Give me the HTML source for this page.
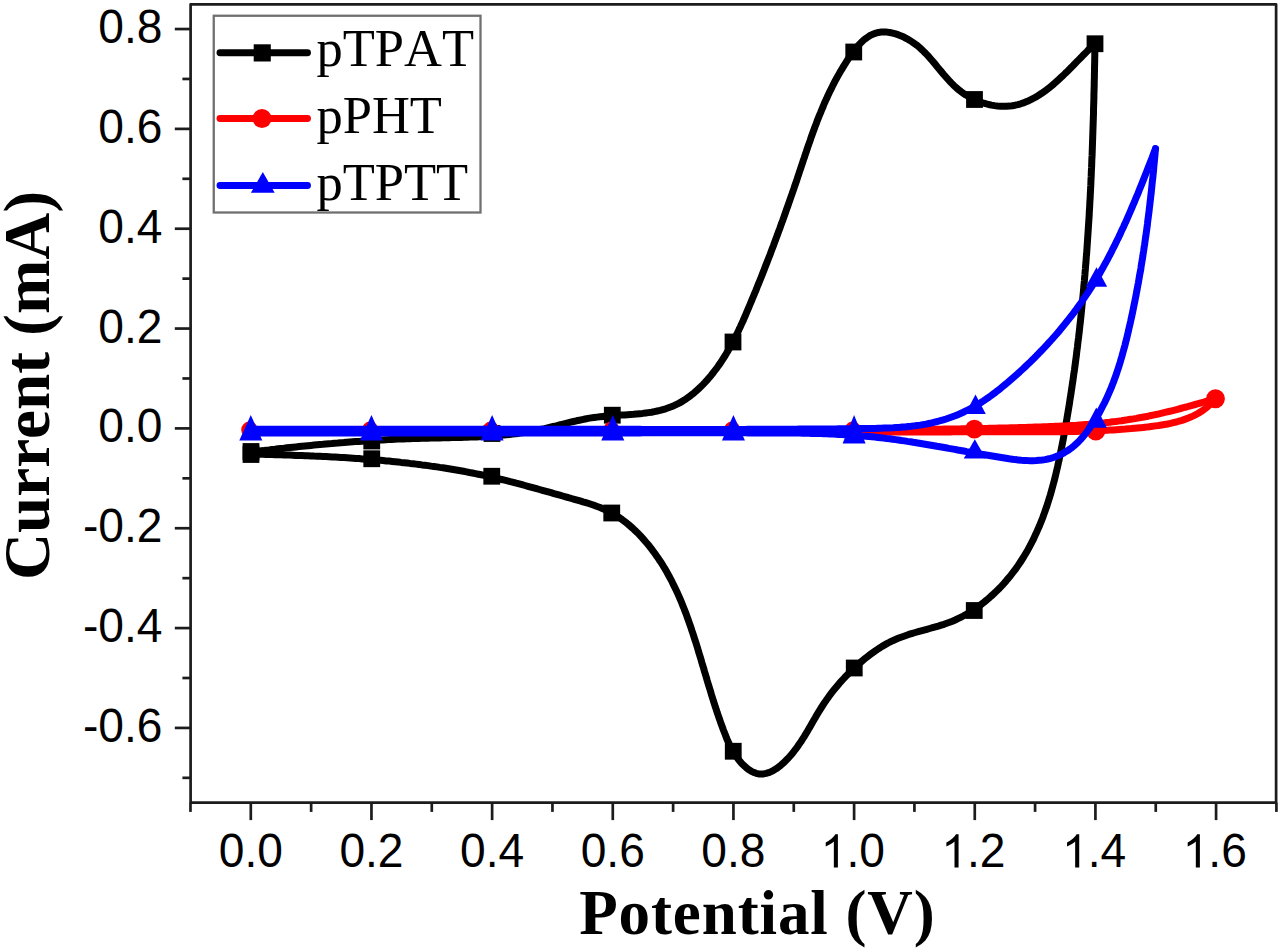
<!DOCTYPE html>
<html><head><meta charset="utf-8"><title>CV chart</title>
<style>html,body{margin:0;padding:0;background:#fff;}svg{display:block;}text{font-kerning:none;}</style>
</head><body>
<svg width="1280" height="949" viewBox="0 0 1280 949">
<rect width="1280" height="949" fill="#fff"/>
<g fill="none" stroke-linejoin="round" stroke-linecap="round">
<path d="M251.0,452.0 L254.0,451.6 L257.0,451.3 L260.0,450.9 L263.0,450.6 L266.0,450.2 L269.0,449.9 L272.0,449.5 L275.0,449.2 L278.0,448.8 L281.0,448.5 L284.0,448.2 L287.0,447.8 L290.0,447.5 L293.0,447.2 L296.0,446.9 L299.0,446.6 L302.0,446.3 L304.9,446.0 L307.9,445.7 L310.9,445.4 L313.9,445.1 L316.9,444.8 L319.9,444.5 L322.9,444.3 L325.9,444.0 L328.8,443.7 L331.8,443.5 L334.8,443.2 L337.8,443.0 L340.8,442.7 L343.8,442.5 L346.8,442.2 L349.8,442.0 L352.7,441.8 L355.7,441.6 L358.7,441.4 L361.7,441.2 L364.7,441.0 L367.7,440.8 L370.7,440.6 L373.7,440.4 L376.7,440.2 L379.7,440.0 L382.7,439.9 L385.7,439.7 L388.7,439.6 L391.7,439.4 L394.7,439.3 L397.7,439.1 L400.7,439.0 L403.7,438.9 L406.7,438.8 L409.8,438.7 L412.8,438.6 L415.8,438.5 L418.8,438.4 L421.8,438.3 L424.9,438.2 L427.9,438.2 L430.9,438.1 L434.0,438.0 L437.0,438.0 L440.0,437.9 L443.1,437.8 L446.1,437.8 L449.1,437.7 L452.2,437.6 L455.2,437.6 L458.2,437.5 L461.3,437.4 L464.3,437.3 L467.3,437.2 L470.3,437.1 L473.4,437.0 L476.4,436.9 L479.4,436.7 L482.4,436.6 L485.4,436.4 L488.5,436.2 L491.5,436.0 L494.5,435.8 L497.5,435.6 L500.5,435.3 L503.5,435.1 L506.4,434.8 L509.4,434.5 L512.4,434.1 L515.4,433.7 L518.3,433.4 L521.3,432.9 L524.2,432.5 L527.2,432.0 L530.1,431.5 L533.0,431.0 L535.9,430.4 L538.9,429.8 L541.8,429.2 L544.7,428.6 L547.6,427.9 L550.4,427.2 L553.3,426.5 L556.2,425.8 L559.1,425.0 L562.0,424.3 L564.9,423.6 L567.8,422.9 L570.6,422.2 L573.5,421.5 L576.5,420.8 L579.4,420.2 L582.3,419.6 L585.2,419.0 L588.2,418.4 L591.1,417.9 L594.1,417.5 L597.1,417.1 L600.1,416.7 L603.1,416.4 L606.2,416.1 L609.2,415.9 L612.3,415.7 L615.3,415.5 L618.4,415.3 L621.4,415.1 L624.5,414.9 L627.5,414.7 L630.5,414.5 L633.6,414.3 L636.6,414.0 L639.6,413.7 L642.6,413.4 L645.6,413.0 L648.5,412.6 L651.5,412.2 L654.4,411.6 L657.3,411.0 L660.1,410.4 L662.9,409.6 L665.7,408.8 L668.5,407.8 L671.2,406.8 L673.9,405.7 L676.6,404.4 L679.2,403.1 L681.8,401.6 L684.3,400.1 L686.8,398.4 L689.2,396.7 L691.6,394.8 L694.0,392.9 L696.3,390.9 L698.5,388.9 L700.7,386.8 L702.9,384.6 L705.0,382.4 L707.1,380.1 L709.1,377.8 L711.1,375.4 L713.0,373.0 L714.9,370.5 L716.8,368.1 L718.5,365.6 L720.3,363.1 L721.9,360.6 L723.6,358.0 L725.2,355.5 L726.7,352.9 L728.3,350.3 L729.7,347.7 L731.2,345.1 L732.6,342.5 L734.0,339.8 L735.3,337.1 L736.7,334.5 L738.0,331.8 L739.2,329.1 L740.5,326.4 L741.7,323.7 L743.0,321.0 L744.2,318.2 L745.4,315.5 L746.5,312.7 L747.7,310.0 L748.9,307.2 L750.0,304.5 L751.2,301.7 L752.3,298.9 L753.5,296.2 L754.6,293.4 L755.8,290.6 L756.9,287.8 L758.0,285.0 L759.2,282.2 L760.3,279.5 L761.4,276.7 L762.5,273.9 L763.6,271.1 L764.7,268.2 L765.8,265.4 L766.9,262.6 L768.0,259.8 L769.1,257.0 L770.2,254.2 L771.2,251.4 L772.3,248.5 L773.4,245.7 L774.4,242.9 L775.5,240.0 L776.5,237.2 L777.6,234.4 L778.6,231.5 L779.7,228.7 L780.7,225.9 L781.7,223.0 L782.8,220.2 L783.8,217.3 L784.8,214.5 L785.8,211.6 L786.8,208.8 L787.8,206.0 L788.8,203.1 L789.8,200.3 L790.8,197.4 L791.8,194.6 L792.8,191.7 L793.8,188.9 L794.7,186.0 L795.7,183.2 L796.7,180.3 L797.6,177.5 L798.6,174.6 L799.5,171.8 L800.5,168.9 L801.4,166.1 L802.4,163.3 L803.3,160.4 L804.3,157.6 L805.2,154.7 L806.2,151.9 L807.1,149.1 L808.1,146.2 L809.1,143.4 L810.1,140.6 L811.0,137.8 L812.0,135.0 L813.1,132.1 L814.1,129.3 L815.1,126.5 L816.2,123.7 L817.2,120.9 L818.3,118.1 L819.4,115.4 L820.6,112.6 L821.7,109.8 L822.9,107.0 L824.0,104.3 L825.2,101.5 L826.5,98.8 L827.7,96.0 L829.0,93.3 L830.3,90.6 L831.7,87.9 L833.0,85.1 L834.4,82.4 L835.8,79.7 L837.3,77.1 L838.8,74.4 L840.3,71.7 L841.9,69.1 L843.5,66.4 L845.1,63.8 L846.8,61.1 L848.5,58.5 L850.3,55.9 L852.1,53.4 L853.9,50.8 L855.8,48.4 L857.8,46.1 L859.8,43.9 L861.9,41.8 L864.0,39.8 L866.3,38.1 L868.6,36.5 L870.9,35.1 L873.4,34.0 L875.9,33.1 L878.6,32.4 L881.3,32.1 L884.1,32.0 L886.9,32.1 L889.8,32.5 L892.7,33.1 L895.7,33.9 L898.6,34.9 L901.4,36.0 L904.3,37.3 L907.1,38.8 L909.8,40.4 L912.4,42.1 L914.9,43.9 L917.4,45.7 L919.7,47.7 L922.0,49.8 L924.1,51.9 L926.3,54.0 L928.3,56.2 L930.3,58.5 L932.3,60.8 L934.3,63.1 L936.2,65.4 L938.1,67.8 L940.0,70.1 L942.0,72.4 L943.9,74.7 L945.9,77.0 L947.9,79.3 L949.9,81.5 L952.0,83.6 L954.1,85.7 L956.3,87.8 L958.6,89.7 L961.0,91.6 L963.4,93.3 L965.9,95.0 L968.6,96.6 L971.3,98.1 L974.0,99.4 L976.8,100.7 L979.7,101.8 L982.6,102.8 L985.6,103.7 L988.5,104.5 L991.5,105.1 L994.5,105.6 L997.5,106.0 L1000.5,106.2 L1003.5,106.3 L1006.4,106.3 L1009.4,106.1 L1012.3,105.7 L1015.1,105.2 L1017.9,104.6 L1020.7,103.8 L1023.4,102.9 L1026.1,101.8 L1028.8,100.7 L1031.4,99.4 L1034.0,98.0 L1036.6,96.6 L1039.1,95.0 L1041.7,93.3 L1044.1,91.6 L1046.6,89.8 L1049.0,87.9 L1051.4,86.0 L1053.8,84.0 L1056.1,81.9 L1058.4,79.8 L1060.7,77.7 L1063.0,75.6 L1065.2,73.4 L1067.5,71.2 L1069.7,69.0 L1071.9,66.8 L1074.1,64.5 L1076.2,62.3 L1078.4,60.1 L1080.5,58.0 L1082.6,55.8 L1084.7,53.7 L1086.8,51.6 L1088.8,49.5 L1090.9,47.6 L1093.0,45.6 L1095.0,43.8" stroke="#000" stroke-width="7.0"/>
<path d="M1095.0,43.7 L1094.9,46.8 L1094.9,49.8 L1094.8,52.8 L1094.8,55.9 L1094.7,58.9 L1094.7,61.9 L1094.6,64.9 L1094.5,67.9 L1094.5,71.0 L1094.4,74.0 L1094.4,77.0 L1094.3,80.0 L1094.2,83.0 L1094.2,86.0 L1094.1,89.1 L1094.0,92.1 L1093.9,95.1 L1093.9,98.1 L1093.8,101.1 L1093.7,104.1 L1093.6,107.1 L1093.5,110.1 L1093.5,113.2 L1093.4,116.2 L1093.3,119.2 L1093.2,122.2 L1093.1,125.2 L1093.0,128.2 L1092.9,131.2 L1092.8,134.2 L1092.7,137.2 L1092.6,140.2 L1092.5,143.2 L1092.4,146.2 L1092.3,149.2 L1092.2,152.2 L1092.1,155.2 L1091.9,158.2 L1091.8,161.2 L1091.7,164.2 L1091.6,167.2 L1091.4,170.2 L1091.3,173.2 L1091.2,176.2 L1091.0,179.2 L1090.9,182.2 L1090.8,185.2 L1090.6,188.1 L1090.5,191.1 L1090.3,194.1 L1090.2,197.1 L1090.0,200.1 L1089.8,203.1 L1089.7,206.1 L1089.5,209.1 L1089.3,212.1 L1089.2,215.1 L1089.0,218.1 L1088.8,221.0 L1088.6,224.0 L1088.4,227.0 L1088.2,230.0 L1088.0,233.0 L1087.8,236.0 L1087.6,239.0 L1087.4,242.0 L1087.2,244.9 L1087.0,247.9 L1086.8,250.9 L1086.6,253.9 L1086.3,256.9 L1086.1,259.9 L1085.9,262.9 L1085.6,265.8 L1085.4,268.8 L1085.1,271.8 L1084.9,274.8 L1084.6,277.8 L1084.4,280.8 L1084.1,283.7 L1083.8,286.7 L1083.6,289.7 L1083.3,292.7 L1083.0,295.7 L1082.7,298.7 L1082.4,301.6 L1082.1,304.6 L1081.8,307.6 L1081.5,310.6 L1081.2,313.6 L1080.9,316.6 L1080.6,319.5 L1080.3,322.5 L1079.9,325.5 L1079.6,328.5 L1079.3,331.5 L1078.9,334.5 L1078.6,337.4 L1078.2,340.4 L1077.8,343.4 L1077.5,346.4 L1077.1,349.4 L1076.7,352.4 L1076.4,355.3 L1076.0,358.3 L1075.6,361.3 L1075.2,364.3 L1074.8,367.3 L1074.4,370.3 L1073.9,373.3 L1073.5,376.2 L1073.1,379.2 L1072.7,382.2 L1072.2,385.2 L1071.8,388.2 L1071.3,391.2 L1070.9,394.2 L1070.4,397.1 L1069.9,400.1 L1069.5,403.1 L1069.0,406.1 L1068.5,409.1 L1068.0,412.1 L1067.5,415.1 L1067.0,418.1 L1066.5,421.0 L1066.0,424.0 L1065.4,427.0 L1064.9,430.0 L1064.4,433.0 L1063.8,436.0 L1063.3,439.0 L1062.7,442.0 L1062.1,445.0 L1061.5,448.0 L1060.9,450.9 L1060.3,453.9 L1059.7,456.9 L1059.1,459.9 L1058.4,462.8 L1057.8,465.8 L1057.1,468.8 L1056.4,471.7 L1055.7,474.7 L1055.0,477.6 L1054.3,480.5 L1053.5,483.4 L1052.7,486.4 L1051.9,489.3 L1051.1,492.2 L1050.3,495.0 L1049.4,497.9 L1048.5,500.8 L1047.6,503.6 L1046.7,506.5 L1045.7,509.3 L1044.7,512.1 L1043.7,514.9 L1042.7,517.7 L1041.6,520.5 L1040.5,523.2 L1039.4,526.0 L1038.2,528.7 L1037.0,531.4 L1035.8,534.1 L1034.5,536.8 L1033.3,539.5 L1031.9,542.1 L1030.6,544.7 L1029.2,547.3 L1027.8,549.9 L1026.3,552.5 L1024.8,555.0 L1023.3,557.5 L1021.7,560.0 L1020.1,562.5 L1018.5,564.9 L1016.8,567.4 L1015.0,569.8 L1013.2,572.1 L1011.4,574.5 L1009.6,576.8 L1007.6,579.1 L1005.7,581.4 L1003.7,583.7 L1001.7,585.9 L999.6,588.1 L997.4,590.2 L995.2,592.4 L993.0,594.5 L990.7,596.5 L988.4,598.6 L986.1,600.5 L983.7,602.5 L981.2,604.4 L978.8,606.2 L976.3,608.0 L973.7,609.7 L971.2,611.4 L968.6,613.0 L965.9,614.5 L963.3,616.0 L960.6,617.4 L957.9,618.7 L955.2,620.0 L952.4,621.2 L949.6,622.3 L946.8,623.3 L944.0,624.3 L941.2,625.2 L938.3,626.1 L935.5,626.9 L932.6,627.7 L929.7,628.5 L926.9,629.3 L924.0,630.1 L921.1,630.9 L918.2,631.7 L915.3,632.5 L912.4,633.3 L909.6,634.2 L906.7,635.2 L903.9,636.2 L901.0,637.2 L898.2,638.3 L895.4,639.5 L892.7,640.7 L890.0,642.0 L887.3,643.4 L884.7,644.9 L882.1,646.4 L879.6,648.0 L877.1,649.6 L874.6,651.3 L872.1,653.1 L869.7,654.9 L867.4,656.7 L865.0,658.6 L862.7,660.5 L860.4,662.5 L858.2,664.4 L855.9,666.4 L853.7,668.4 L851.6,670.5 L849.5,672.6 L847.4,674.7 L845.3,676.8 L843.3,679.0 L841.3,681.2 L839.3,683.4 L837.4,685.7 L835.5,688.0 L833.6,690.3 L831.7,692.7 L829.9,695.1 L828.2,697.5 L826.4,700.0 L824.7,702.4 L823.0,705.0 L821.4,707.5 L819.8,710.1 L818.2,712.7 L816.6,715.3 L815.1,718.0 L813.5,720.6 L812.0,723.3 L810.5,725.9 L808.9,728.6 L807.4,731.3 L805.8,733.9 L804.2,736.6 L802.5,739.2 L800.9,741.8 L799.1,744.3 L797.4,746.8 L795.5,749.3 L793.7,751.8 L791.7,754.2 L789.7,756.5 L787.6,758.8 L785.4,761.0 L783.2,763.2 L780.9,765.2 L778.5,767.1 L776.1,768.8 L773.6,770.3 L771.1,771.6 L768.6,772.7 L766.1,773.4 L763.6,773.9 L761.1,774.1 L758.6,773.9 L756.2,773.3 L753.7,772.4 L751.4,771.3 L749.0,769.8 L746.8,768.2 L744.6,766.2 L742.4,764.2 L740.4,761.9 L738.4,759.5 L736.6,757.0 L734.8,754.4 L733.2,751.7 L731.7,749.0 L730.3,746.3 L729.0,743.5 L727.7,740.8 L726.5,738.0 L725.4,735.1 L724.3,732.3 L723.2,729.5 L722.2,726.6 L721.1,723.8 L720.1,720.9 L719.1,718.0 L718.1,715.1 L717.1,712.3 L716.2,709.4 L715.2,706.5 L714.3,703.6 L713.4,700.7 L712.4,697.7 L711.5,694.8 L710.7,691.9 L709.8,689.0 L708.9,686.1 L708.0,683.2 L707.1,680.2 L706.3,677.3 L705.4,674.4 L704.5,671.5 L703.7,668.5 L702.8,665.6 L701.9,662.7 L701.1,659.8 L700.2,656.9 L699.3,654.0 L698.4,651.1 L697.6,648.2 L696.7,645.3 L695.8,642.4 L694.8,639.5 L693.9,636.6 L693.0,633.8 L692.0,630.9 L691.1,628.0 L690.1,625.2 L689.1,622.4 L688.1,619.5 L687.1,616.7 L686.1,613.9 L685.0,611.1 L683.9,608.3 L682.8,605.6 L681.7,602.8 L680.6,600.1 L679.4,597.3 L678.2,594.6 L677.0,591.9 L675.7,589.2 L674.4,586.6 L673.1,583.9 L671.8,581.3 L670.4,578.6 L669.0,576.0 L667.6,573.5 L666.2,570.9 L664.7,568.3 L663.1,565.8 L661.6,563.3 L659.9,560.8 L658.3,558.3 L656.6,555.9 L654.9,553.5 L653.1,551.1 L651.3,548.7 L649.5,546.3 L647.6,544.0 L645.6,541.7 L643.6,539.4 L641.6,537.2 L639.5,534.9 L637.4,532.7 L635.2,530.6 L633.0,528.5 L630.7,526.5 L628.4,524.5 L626.0,522.6 L623.6,520.7 L621.2,518.9 L618.7,517.2 L616.2,515.6 L613.6,514.0 L611.0,512.5 L608.3,511.2 L605.6,509.9 L602.9,508.7 L600.1,507.5 L597.3,506.5 L594.5,505.4 L591.7,504.5 L588.8,503.5 L585.9,502.6 L583.0,501.8 L580.1,500.9 L577.2,500.1 L574.3,499.3 L571.4,498.5 L568.5,497.7 L565.6,496.8 L562.7,496.0 L559.8,495.2 L556.9,494.4 L554.0,493.6 L551.1,492.7 L548.2,491.9 L545.3,491.1 L542.4,490.3 L539.5,489.5 L536.6,488.7 L533.7,487.9 L530.8,487.1 L527.9,486.3 L525.0,485.5 L522.1,484.7 L519.2,483.9 L516.3,483.2 L513.4,482.4 L510.4,481.7 L507.5,480.9 L504.6,480.2 L501.7,479.5 L498.8,478.8 L495.9,478.1 L493.0,477.4 L490.0,476.7 L487.1,476.1 L484.2,475.4 L481.2,474.8 L478.3,474.2 L475.4,473.6 L472.4,473.0 L469.5,472.5 L466.5,471.9 L463.6,471.3 L460.6,470.8 L457.7,470.3 L454.7,469.8 L451.8,469.3 L448.8,468.8 L445.8,468.3 L442.9,467.8 L439.9,467.4 L436.9,466.9 L434.0,466.5 L431.0,466.1 L428.0,465.6 L425.0,465.2 L422.0,464.9 L419.1,464.5 L416.1,464.1 L413.1,463.7 L410.1,463.4 L407.1,463.0 L404.1,462.7 L401.1,462.4 L398.1,462.0 L395.1,461.7 L392.2,461.4 L389.2,461.1 L386.2,460.9 L383.2,460.6 L380.2,460.3 L377.2,460.0 L374.2,459.8 L371.2,459.5 L368.2,459.3 L365.2,459.1 L362.1,458.9 L359.1,458.6 L356.1,458.4 L353.1,458.2 L350.1,458.0 L347.1,457.8 L344.1,457.6 L341.1,457.5 L338.1,457.3 L335.1,457.1 L332.1,457.0 L329.1,456.8 L326.1,456.6 L323.0,456.5 L320.0,456.3 L317.0,456.2 L314.0,456.1 L311.0,455.9 L308.0,455.8 L305.0,455.7 L302.0,455.6 L299.0,455.5 L296.0,455.4 L293.0,455.2 L290.0,455.1 L287.0,455.0 L284.0,454.9 L281.0,454.8 L278.0,454.7 L275.0,454.7 L272.0,454.6 L269.0,454.5 L266.0,454.4 L263.0,454.3 L260.0,454.2 L257.0,454.2 L254.0,454.1 L251.0,454.0" stroke="#000" stroke-width="7.0"/>
</g>
<rect x="242.60" y="443.10" width="16.8" height="16.8" fill="#000"/>
<rect x="242.60" y="446.10" width="16.8" height="16.8" fill="#000"/>
<rect x="363.35" y="432.60" width="16.8" height="16.8" fill="#000"/>
<rect x="363.35" y="450.35" width="16.8" height="16.8" fill="#000"/>
<rect x="483.60" y="425.10" width="16.8" height="16.8" fill="#000"/>
<rect x="483.35" y="467.85" width="16.8" height="16.8" fill="#000"/>
<rect x="603.90" y="406.80" width="16.8" height="16.8" fill="#000"/>
<rect x="603.35" y="504.60" width="16.8" height="16.8" fill="#000"/>
<rect x="724.60" y="333.60" width="16.8" height="16.8" fill="#000"/>
<rect x="724.85" y="742.85" width="16.8" height="16.8" fill="#000"/>
<rect x="845.35" y="43.60" width="16.8" height="16.8" fill="#000"/>
<rect x="845.85" y="659.60" width="16.8" height="16.8" fill="#000"/>
<rect x="966.10" y="91.10" width="16.8" height="16.8" fill="#000"/>
<rect x="965.85" y="602.10" width="16.8" height="16.8" fill="#000"/>
<rect x="1086.60" y="35.35" width="16.8" height="16.8" fill="#000"/>
<g fill="none" stroke-linejoin="round" stroke-linecap="round">
<path d="M251.0,430.0 L254.0,430.0 L257.0,430.0 L260.0,430.0 L263.1,430.0 L266.1,430.0 L269.1,430.0 L272.1,430.0 L275.1,430.0 L278.1,430.0 L281.1,430.0 L284.2,430.0 L287.2,430.0 L290.2,430.0 L293.2,430.0 L296.2,430.1 L299.2,430.1 L302.2,430.1 L305.3,430.1 L308.3,430.1 L311.3,430.1 L314.3,430.1 L317.3,430.1 L320.3,430.1 L323.3,430.1 L326.4,430.1 L329.4,430.1 L332.4,430.1 L335.4,430.1 L338.4,430.1 L341.4,430.1 L344.4,430.1 L347.5,430.1 L350.5,430.1 L353.5,430.1 L356.5,430.1 L359.5,430.1 L362.5,430.1 L365.5,430.1 L368.6,430.1 L371.6,430.1 L374.6,430.1 L377.6,430.1 L380.6,430.1 L383.6,430.1 L386.6,430.1 L389.7,430.1 L392.7,430.1 L395.7,430.1 L398.7,430.1 L401.7,430.1 L404.7,430.1 L407.7,430.1 L410.8,430.1 L413.8,430.1 L416.8,430.1 L419.8,430.1 L422.8,430.1 L425.8,430.1 L428.8,430.1 L431.9,430.1 L434.9,430.1 L437.9,430.0 L440.9,430.0 L443.9,430.0 L446.9,430.0 L449.9,430.0 L453.0,430.0 L456.0,430.0 L459.0,430.0 L462.0,430.0 L465.0,430.0 L468.0,430.0 L471.0,430.0 L474.1,430.0 L477.1,430.0 L480.1,430.0 L483.1,430.0 L486.1,430.0 L489.1,430.0 L492.1,430.0 L495.1,430.0 L498.2,430.0 L501.2,430.0 L504.2,430.0 L507.2,430.0 L510.2,430.0 L513.2,430.0 L516.2,430.0 L519.3,430.0 L522.3,430.0 L525.3,430.0 L528.3,430.0 L531.3,430.0 L534.3,430.0 L537.3,430.0 L540.4,430.0 L543.4,430.0 L546.4,430.0 L549.4,430.0 L552.4,430.0 L555.4,430.0 L558.4,430.0 L561.5,430.0 L564.5,429.9 L567.5,429.9 L570.5,429.9 L573.5,429.9 L576.5,429.9 L579.5,429.9 L582.6,429.9 L585.6,429.9 L588.6,429.9 L591.6,429.9 L594.6,429.9 L597.6,429.9 L600.6,429.9 L603.7,429.9 L606.7,429.9 L609.7,429.9 L612.7,429.9 L615.7,429.9 L618.7,429.9 L621.7,429.9 L624.8,429.9 L627.8,429.9 L630.8,429.9 L633.8,429.9 L636.8,429.9 L639.8,429.9 L642.8,429.9 L645.8,429.9 L648.9,429.9 L651.9,429.9 L654.9,429.9 L657.9,429.9 L660.9,429.9 L663.9,429.9 L666.9,429.9 L670.0,429.9 L673.0,429.9 L676.0,429.9 L679.0,429.9 L682.0,429.9 L685.0,429.9 L688.0,429.9 L691.1,429.9 L694.1,429.9 L697.1,429.9 L700.1,429.9 L703.1,429.9 L706.1,429.9 L709.1,429.9 L712.2,429.9 L715.2,429.9 L718.2,429.9 L721.2,429.9 L724.2,429.9 L727.2,429.9 L730.2,429.9 L733.3,429.9 L736.3,429.9 L739.3,429.9 L742.3,429.9 L745.3,429.9 L748.3,429.9 L751.4,429.9 L754.4,429.9 L757.4,429.9 L760.4,429.9 L763.4,429.9 L766.4,429.9 L769.4,429.9 L772.5,429.9 L775.5,429.9 L778.5,429.9 L781.5,429.9 L784.5,429.9 L787.5,429.9 L790.5,429.9 L793.6,429.9 L796.6,429.9 L799.6,429.9 L802.6,429.9 L805.6,429.9 L808.6,429.9 L811.6,429.9 L814.7,429.9 L817.7,429.9 L820.7,429.9 L823.7,429.9 L826.7,429.9 L829.7,429.9 L832.7,429.9 L835.8,429.9 L838.8,429.9 L841.8,429.9 L844.8,429.9 L847.8,429.9 L850.8,429.9 L853.8,429.8 L856.9,429.8 L859.9,429.8 L862.9,429.8 L865.9,429.8 L868.9,429.8 L871.9,429.8 L874.9,429.8 L878.0,429.7 L881.0,429.7 L884.0,429.7 L887.0,429.7 L890.0,429.7 L893.0,429.6 L896.0,429.6 L899.1,429.6 L902.1,429.6 L905.1,429.5 L908.1,429.5 L911.1,429.5 L914.1,429.5 L917.1,429.4 L920.2,429.4 L923.2,429.4 L926.2,429.3 L929.2,429.3 L932.2,429.3 L935.2,429.2 L938.2,429.2 L941.3,429.2 L944.3,429.1 L947.3,429.1 L950.3,429.0 L953.3,429.0 L956.3,428.9 L959.3,428.9 L962.3,428.8 L965.4,428.8 L968.4,428.7 L971.4,428.7 L974.4,428.6 L977.4,428.6 L980.4,428.5 L983.4,428.4 L986.5,428.4 L989.5,428.3 L992.5,428.3 L995.5,428.2 L998.5,428.1 L1001.5,428.0 L1004.5,428.0 L1007.5,427.9 L1010.6,427.8 L1013.6,427.7 L1016.6,427.7 L1019.6,427.6 L1022.6,427.5 L1025.6,427.4 L1028.6,427.3 L1031.6,427.2 L1034.7,427.1 L1037.7,427.0 L1040.7,426.9 L1043.7,426.8 L1046.7,426.7 L1049.7,426.6 L1052.7,426.5 L1055.7,426.3 L1058.7,426.2 L1061.7,426.0 L1064.7,425.9 L1067.7,425.7 L1070.7,425.5 L1073.7,425.4 L1076.7,425.2 L1079.7,424.9 L1082.7,424.7 L1085.7,424.5 L1088.7,424.3 L1091.7,424.0 L1094.7,423.7 L1097.7,423.5 L1100.7,423.2 L1103.7,422.9 L1106.7,422.5 L1109.7,422.2 L1112.6,421.8 L1115.6,421.5 L1118.6,421.1 L1121.6,420.7 L1124.6,420.2 L1127.5,419.8 L1130.5,419.3 L1133.5,418.9 L1136.4,418.4 L1139.4,417.8 L1142.3,417.3 L1145.3,416.7 L1148.2,416.2 L1151.2,415.5 L1154.1,414.9 L1157.1,414.3 L1160.0,413.6 L1163.0,412.9 L1165.9,412.2 L1168.9,411.5 L1171.8,410.8 L1174.7,410.1 L1177.6,409.3 L1180.6,408.5 L1183.5,407.7 L1186.4,407.0 L1189.3,406.1 L1192.2,405.3 L1195.2,404.5 L1198.1,403.7 L1201.0,402.8 L1203.9,402.0 L1206.8,401.1 L1209.7,400.2 L1212.6,399.4 L1215.5,398.5" stroke="#f00" stroke-width="7.0"/>
<path d="M1215.5,398.5 L1213.6,400.8 L1211.6,403.0 L1209.5,405.0 L1207.3,407.0 L1205.0,408.8 L1202.7,410.5 L1200.3,412.0 L1197.9,413.5 L1195.3,414.9 L1192.8,416.1 L1190.1,417.3 L1187.5,418.4 L1184.7,419.4 L1182.0,420.4 L1179.1,421.2 L1176.3,422.0 L1173.4,422.7 L1170.5,423.4 L1167.6,424.0 L1164.6,424.5 L1161.6,425.0 L1158.6,425.5 L1155.6,425.9 L1152.6,426.3 L1149.5,426.7 L1146.5,427.1 L1143.5,427.4 L1140.4,427.7 L1137.4,428.0 L1134.4,428.3 L1131.3,428.6 L1128.3,428.8 L1125.3,429.1 L1122.2,429.3 L1119.2,429.5 L1116.2,429.7 L1113.1,429.9 L1110.1,430.1 L1107.1,430.3 L1104.1,430.4 L1101.0,430.6 L1098.0,430.7 L1095.0,430.8 L1092.0,431.0 L1089.0,431.1 L1085.9,431.2 L1082.9,431.2 L1079.9,431.3 L1076.9,431.4 L1073.9,431.5 L1070.8,431.5 L1067.8,431.6 L1064.8,431.6 L1061.8,431.7 L1058.8,431.7 L1055.8,431.7 L1052.7,431.7 L1049.7,431.8 L1046.7,431.8 L1043.7,431.8 L1040.7,431.8 L1037.7,431.8 L1034.7,431.8 L1031.6,431.8 L1028.6,431.8 L1025.6,431.8 L1022.6,431.8 L1019.6,431.8 L1016.6,431.8 L1013.6,431.8 L1010.5,431.8 L1007.5,431.8 L1004.5,431.8 L1001.5,431.8 L998.5,431.8 L995.5,431.8 L992.5,431.8 L989.5,431.8 L986.4,431.8 L983.4,431.8 L980.4,431.8 L977.4,431.8 L974.4,431.8 L971.4,431.8 L968.4,431.8 L965.3,431.8 L962.3,431.8 L959.3,431.8 L956.3,431.8 L953.3,431.8 L950.3,431.9 L947.3,431.9 L944.2,431.9 L941.2,431.9 L938.2,431.9 L935.2,431.9 L932.2,431.9 L929.2,431.9 L926.2,431.9 L923.2,431.9 L920.1,431.9 L917.1,431.9 L914.1,431.9 L911.1,431.9 L908.1,431.9 L905.1,431.9 L902.1,431.9 L899.0,431.9 L896.0,431.9 L893.0,431.9 L890.0,431.9 L887.0,431.9 L884.0,431.9 L881.0,431.9 L877.9,431.9 L874.9,431.9 L871.9,431.9 L868.9,431.9 L865.9,431.9 L862.9,431.9 L859.9,431.9 L856.9,431.9 L853.8,431.9 L850.8,431.9 L847.8,431.9 L844.8,431.9 L841.8,431.9 L838.8,431.9 L835.8,431.9 L832.7,432.0 L829.7,432.0 L826.7,432.0 L823.7,432.0 L820.7,432.0 L817.7,432.0 L814.7,432.0 L811.7,432.0 L808.6,432.0 L805.6,432.0 L802.6,432.0 L799.6,432.0 L796.6,432.0 L793.6,432.0 L790.6,432.0 L787.5,432.0 L784.5,432.0 L781.5,432.0 L778.5,432.0 L775.5,432.0 L772.5,432.0 L769.5,432.0 L766.4,432.0 L763.4,432.0 L760.4,432.0 L757.4,432.0 L754.4,432.0 L751.4,432.0 L748.4,432.0 L745.3,432.0 L742.3,432.0 L739.3,432.0 L736.3,432.0 L733.3,432.0 L730.3,432.0 L727.3,432.0 L724.3,432.0 L721.2,432.0 L718.2,432.0 L715.2,432.0 L712.2,432.0 L709.2,432.0 L706.2,432.0 L703.2,432.0 L700.1,432.0 L697.1,432.0 L694.1,432.0 L691.1,432.0 L688.1,432.0 L685.1,432.0 L682.1,432.0 L679.0,432.0 L676.0,432.0 L673.0,432.0 L670.0,432.0 L667.0,432.0 L664.0,432.0 L661.0,432.0 L657.9,432.0 L654.9,432.0 L651.9,432.0 L648.9,432.0 L645.9,432.0 L642.9,432.0 L639.9,432.0 L636.8,432.0 L633.8,432.0 L630.8,432.0 L627.8,432.0 L624.8,432.0 L621.8,432.0 L618.8,432.0 L615.7,432.0 L612.7,432.0 L609.7,432.0 L606.7,432.0 L603.7,432.0 L600.7,432.0 L597.7,432.0 L594.6,432.0 L591.6,432.0 L588.6,432.0 L585.6,432.0 L582.6,432.0 L579.6,432.0 L576.5,432.0 L573.5,432.0 L570.5,432.0 L567.5,432.0 L564.5,432.0 L561.5,432.0 L558.5,432.0 L555.4,432.0 L552.4,432.0 L549.4,432.0 L546.4,432.0 L543.4,432.0 L540.4,432.0 L537.4,432.0 L534.3,432.0 L531.3,432.0 L528.3,432.0 L525.3,432.0 L522.3,432.0 L519.3,432.0 L516.3,432.0 L513.2,432.0 L510.2,432.0 L507.2,432.0 L504.2,432.0 L501.2,432.0 L498.2,432.0 L495.2,432.0 L492.1,432.0 L489.1,432.0 L486.1,432.0 L483.1,432.0 L480.1,432.0 L477.1,432.0 L474.1,432.0 L471.0,432.0 L468.0,432.0 L465.0,432.0 L462.0,432.0 L459.0,432.0 L456.0,432.0 L453.0,432.0 L449.9,432.0 L446.9,432.0 L443.9,432.0 L440.9,432.0 L437.9,432.0 L434.9,432.0 L431.9,432.0 L428.8,432.0 L425.8,432.0 L422.8,432.0 L419.8,432.0 L416.8,432.0 L413.8,432.0 L410.8,432.0 L407.7,432.0 L404.7,432.0 L401.7,432.0 L398.7,432.0 L395.7,432.0 L392.7,432.0 L389.6,432.0 L386.6,432.0 L383.6,432.0 L380.6,432.0 L377.6,432.0 L374.6,432.0 L371.6,432.0 L368.5,432.0 L365.5,432.0 L362.5,432.0 L359.5,432.0 L356.5,432.0 L353.5,432.0 L350.5,432.0 L347.4,432.0 L344.4,432.0 L341.4,432.0 L338.4,432.0 L335.4,432.0 L332.4,432.0 L329.4,432.0 L326.3,432.0 L323.3,432.0 L320.3,432.0 L317.3,432.0 L314.3,432.0 L311.3,432.0 L308.3,432.0 L305.3,432.0 L302.2,432.0 L299.2,432.0 L296.2,432.0 L293.2,432.0 L290.2,432.0 L287.2,432.0 L284.2,432.0 L281.1,432.0 L278.1,432.0 L275.1,432.0 L272.1,432.0 L269.1,432.0 L266.1,432.0 L263.1,432.0 L260.0,432.0 L257.0,432.0 L254.0,432.0 L251.0,432.0" stroke="#f00" stroke-width="7.0"/>
</g>
<circle cx="249.50" cy="429.80" r="8.3" fill="#f00"/>
<circle cx="370.16" cy="429.80" r="8.3" fill="#f00"/>
<circle cx="490.82" cy="429.80" r="8.3" fill="#f00"/>
<circle cx="611.48" cy="429.80" r="8.3" fill="#f00"/>
<circle cx="732.14" cy="429.80" r="8.3" fill="#f00"/>
<circle cx="852.80" cy="429.80" r="8.3" fill="#f00"/>
<circle cx="974.40" cy="429.20" r="9.4" fill="#f00"/>
<circle cx="1095.80" cy="431.00" r="9.4" fill="#f00"/>
<circle cx="1215.50" cy="398.75" r="9.4" fill="#f00"/>
<g fill="none" stroke-linejoin="round" stroke-linecap="round">
<path d="M251.0,429.3 L254.0,429.3 L257.0,429.3 L260.0,429.3 L263.0,429.3 L266.0,429.3 L269.0,429.3 L272.1,429.3 L275.1,429.3 L278.1,429.3 L281.1,429.3 L284.1,429.3 L287.1,429.3 L290.1,429.3 L293.1,429.3 L296.1,429.3 L299.1,429.3 L302.2,429.3 L305.2,429.3 L308.2,429.3 L311.2,429.3 L314.2,429.3 L317.2,429.3 L320.2,429.3 L323.2,429.3 L326.3,429.3 L329.3,429.3 L332.3,429.3 L335.3,429.3 L338.3,429.3 L341.3,429.3 L344.3,429.3 L347.4,429.3 L350.4,429.3 L353.4,429.3 L356.4,429.3 L359.4,429.3 L362.4,429.3 L365.4,429.3 L368.5,429.3 L371.5,429.3 L374.5,429.3 L377.5,429.3 L380.5,429.3 L383.5,429.3 L386.6,429.3 L389.6,429.3 L392.6,429.3 L395.6,429.3 L398.6,429.3 L401.6,429.3 L404.7,429.3 L407.7,429.3 L410.7,429.3 L413.7,429.3 L416.7,429.3 L419.7,429.3 L422.8,429.3 L425.8,429.3 L428.8,429.3 L431.8,429.3 L434.8,429.3 L437.9,429.3 L440.9,429.3 L443.9,429.3 L446.9,429.3 L449.9,429.3 L452.9,429.3 L456.0,429.3 L459.0,429.3 L462.0,429.3 L465.0,429.3 L468.0,429.3 L471.0,429.3 L474.1,429.3 L477.1,429.3 L480.1,429.3 L483.1,429.3 L486.1,429.3 L489.1,429.3 L492.2,429.3 L495.2,429.3 L498.2,429.3 L501.2,429.3 L504.2,429.3 L507.2,429.3 L510.3,429.3 L513.3,429.3 L516.3,429.2 L519.3,429.2 L522.3,429.2 L525.3,429.2 L528.3,429.2 L531.4,429.2 L534.4,429.2 L537.4,429.3 L540.4,429.3 L543.4,429.3 L546.4,429.3 L549.4,429.3 L552.5,429.3 L555.5,429.3 L558.5,429.3 L561.5,429.3 L564.5,429.3 L567.5,429.3 L570.5,429.3 L573.5,429.3 L576.6,429.3 L579.6,429.3 L582.6,429.3 L585.6,429.3 L588.6,429.3 L591.6,429.3 L594.6,429.3 L597.6,429.3 L600.6,429.3 L603.6,429.3 L606.6,429.3 L609.7,429.3 L612.7,429.3 L615.7,429.3 L618.7,429.3 L621.7,429.3 L624.7,429.3 L627.7,429.3 L630.7,429.3 L633.7,429.3 L636.7,429.3 L639.7,429.3 L642.7,429.4 L645.7,429.4 L648.7,429.4 L651.8,429.4 L654.8,429.4 L657.8,429.4 L660.8,429.4 L663.8,429.4 L666.8,429.4 L669.8,429.4 L672.8,429.4 L675.8,429.4 L678.8,429.4 L681.8,429.4 L684.8,429.4 L687.8,429.4 L690.8,429.4 L693.8,429.4 L696.9,429.4 L699.9,429.4 L702.9,429.4 L705.9,429.4 L708.9,429.4 L711.9,429.4 L714.9,429.4 L717.9,429.4 L720.9,429.4 L723.9,429.4 L726.9,429.4 L730.0,429.4 L733.0,429.4 L736.0,429.4 L739.0,429.4 L742.0,429.4 L745.0,429.4 L748.0,429.3 L751.0,429.3 L754.0,429.3 L757.1,429.3 L760.1,429.3 L763.1,429.3 L766.1,429.3 L769.1,429.3 L772.1,429.3 L775.2,429.3 L778.2,429.2 L781.2,429.2 L784.2,429.2 L787.2,429.2 L790.2,429.2 L793.3,429.2 L796.3,429.2 L799.3,429.1 L802.3,429.1 L805.3,429.1 L808.4,429.1 L811.4,429.1 L814.4,429.0 L817.4,429.0 L820.5,429.0 L823.5,429.0 L826.5,428.9 L829.5,428.9 L832.6,428.9 L835.6,428.9 L838.6,428.8 L841.7,428.8 L844.7,428.8 L847.7,428.7 L850.8,428.7 L853.8,428.7 L856.8,428.6 L859.9,428.6 L862.9,428.6 L865.9,428.5 L869.0,428.5 L872.0,428.4 L875.1,428.4 L878.1,428.3 L881.1,428.2 L884.1,428.1 L887.2,428.0 L890.2,427.9 L893.2,427.8 L896.2,427.6 L899.2,427.4 L902.2,427.1 L905.2,426.9 L908.2,426.6 L911.2,426.3 L914.2,425.9 L917.1,425.5 L920.1,425.1 L923.0,424.6 L925.9,424.1 L928.9,423.5 L931.8,422.9 L934.7,422.2 L937.5,421.5 L940.4,420.7 L943.3,419.9 L946.1,419.0 L948.9,418.0 L951.7,417.0 L954.5,416.0 L957.2,414.9 L960.0,413.7 L962.7,412.5 L965.4,411.2 L968.1,409.9 L970.7,408.5 L973.3,407.1 L975.9,405.6 L978.5,404.1 L981.0,402.5 L983.5,400.9 L986.0,399.2 L988.5,397.5 L990.9,395.7 L993.4,393.9 L995.8,392.1 L998.2,390.2 L1000.5,388.4 L1002.9,386.4 L1005.2,384.5 L1007.5,382.6 L1009.8,380.6 L1012.1,378.6 L1014.4,376.6 L1016.7,374.6 L1018.9,372.6 L1021.2,370.5 L1023.4,368.5 L1025.6,366.4 L1027.8,364.3 L1030.0,362.2 L1032.1,360.1 L1034.3,358.0 L1036.4,355.8 L1038.5,353.7 L1040.6,351.5 L1042.7,349.3 L1044.8,347.1 L1046.9,344.9 L1048.9,342.7 L1050.9,340.5 L1052.9,338.2 L1054.9,336.0 L1056.9,333.7 L1058.9,331.4 L1060.8,329.1 L1062.7,326.8 L1064.6,324.4 L1066.5,322.1 L1068.4,319.7 L1070.2,317.4 L1072.1,315.0 L1073.9,312.6 L1075.7,310.2 L1077.4,307.8 L1079.2,305.3 L1080.9,302.9 L1082.6,300.4 L1084.3,297.9 L1086.0,295.4 L1087.7,292.9 L1089.3,290.4 L1090.9,287.9 L1092.5,285.3 L1094.1,282.8 L1095.6,280.2 L1097.2,277.6 L1098.7,275.1 L1100.2,272.5 L1101.7,269.8 L1103.2,267.2 L1104.6,264.6 L1106.1,262.0 L1107.5,259.3 L1108.9,256.6 L1110.3,254.0 L1111.7,251.3 L1113.0,248.6 L1114.4,245.9 L1115.7,243.2 L1117.0,240.5 L1118.4,237.8 L1119.7,235.1 L1120.9,232.3 L1122.2,229.6 L1123.5,226.9 L1124.7,224.1 L1126.0,221.4 L1127.2,218.6 L1128.4,215.8 L1129.6,213.1 L1130.8,210.3 L1132.0,207.5 L1133.2,204.7 L1134.4,202.0 L1135.5,199.2 L1136.7,196.4 L1137.9,193.6 L1139.0,190.8 L1140.1,188.0 L1141.3,185.2 L1142.4,182.4 L1143.5,179.6 L1144.6,176.8 L1145.7,174.0 L1146.8,171.2 L1147.9,168.4 L1149.0,165.6 L1150.1,162.8 L1151.2,160.0 L1152.3,157.2 L1153.3,154.3 L1154.4,151.5 L1155.5,148.7" stroke="#00f" stroke-width="7.0"/>
<path d="M1155.5,148.7 L1155.2,151.8 L1155.0,154.8 L1154.7,157.8 L1154.4,160.8 L1154.1,163.8 L1153.8,166.8 L1153.6,169.8 L1153.3,172.8 L1153.0,175.8 L1152.7,178.8 L1152.3,181.8 L1152.0,184.8 L1151.7,187.8 L1151.4,190.8 L1151.1,193.8 L1150.7,196.8 L1150.4,199.8 L1150.0,202.8 L1149.7,205.8 L1149.3,208.8 L1149.0,211.8 L1148.6,214.7 L1148.2,217.7 L1147.8,220.7 L1147.5,223.7 L1147.1,226.7 L1146.7,229.7 L1146.3,232.6 L1145.9,235.6 L1145.4,238.6 L1145.0,241.6 L1144.6,244.5 L1144.1,247.5 L1143.7,250.5 L1143.2,253.5 L1142.8,256.4 L1142.3,259.4 L1141.8,262.4 L1141.3,265.3 L1140.9,268.3 L1140.4,271.3 L1139.8,274.2 L1139.3,277.2 L1138.8,280.2 L1138.3,283.1 L1137.7,286.1 L1137.2,289.0 L1136.6,292.0 L1136.1,295.0 L1135.5,297.9 L1134.9,300.9 L1134.3,303.8 L1133.7,306.8 L1133.1,309.7 L1132.5,312.7 L1131.9,315.6 L1131.2,318.6 L1130.6,321.5 L1129.9,324.5 L1129.2,327.4 L1128.6,330.4 L1127.9,333.3 L1127.2,336.3 L1126.5,339.2 L1125.7,342.1 L1125.0,345.1 L1124.2,348.0 L1123.4,350.9 L1122.6,353.8 L1121.8,356.7 L1120.9,359.6 L1120.1,362.5 L1119.2,365.4 L1118.3,368.3 L1117.3,371.1 L1116.4,374.0 L1115.4,376.8 L1114.3,379.7 L1113.3,382.5 L1112.2,385.3 L1111.1,388.1 L1109.9,390.9 L1108.7,393.6 L1107.5,396.4 L1106.3,399.1 L1105.0,401.8 L1103.6,404.5 L1102.2,407.2 L1100.8,409.9 L1099.4,412.5 L1097.9,415.2 L1096.3,417.8 L1094.7,420.3 L1093.1,422.9 L1091.4,425.5 L1089.7,428.0 L1087.9,430.5 L1086.1,432.9 L1084.2,435.3 L1082.2,437.6 L1080.2,439.9 L1078.1,442.1 L1075.9,444.1 L1073.7,446.1 L1071.4,448.0 L1069.0,449.7 L1066.5,451.3 L1064.0,452.8 L1061.4,454.2 L1058.8,455.4 L1056.1,456.5 L1053.4,457.5 L1050.6,458.3 L1047.8,459.0 L1045.0,459.6 L1042.1,460.0 L1039.2,460.3 L1036.3,460.6 L1033.3,460.7 L1030.3,460.7 L1027.3,460.6 L1024.3,460.4 L1021.3,460.2 L1018.2,459.9 L1015.2,459.6 L1012.1,459.2 L1009.1,458.8 L1006.0,458.3 L1002.9,457.8 L999.9,457.3 L996.8,456.8 L993.8,456.3 L990.8,455.8 L987.7,455.3 L984.7,454.8 L981.7,454.3 L978.7,453.7 L975.7,453.2 L972.7,452.7 L969.7,452.1 L966.7,451.6 L963.7,451.0 L960.7,450.5 L957.7,450.0 L954.8,449.4 L951.8,448.9 L948.8,448.4 L945.8,447.8 L942.9,447.3 L939.9,446.8 L937.0,446.3 L934.0,445.7 L931.0,445.2 L928.1,444.7 L925.1,444.2 L922.2,443.7 L919.2,443.2 L916.3,442.7 L913.3,442.3 L910.4,441.8 L907.4,441.4 L904.5,440.9 L901.5,440.5 L898.5,440.0 L895.6,439.6 L892.6,439.2 L889.7,438.8 L886.7,438.5 L883.7,438.1 L880.8,437.7 L877.8,437.4 L874.8,437.1 L871.9,436.8 L868.9,436.5 L865.9,436.2 L862.9,436.0 L859.9,435.7 L856.9,435.5 L853.9,435.3 L850.9,435.1 L847.9,434.9 L844.9,434.7 L841.9,434.5 L838.9,434.4 L835.9,434.2 L832.9,434.1 L829.9,433.9 L826.9,433.8 L823.9,433.7 L820.9,433.6 L817.8,433.5 L814.8,433.4 L811.8,433.4 L808.8,433.3 L805.8,433.2 L802.7,433.2 L799.7,433.1 L796.7,433.1 L793.7,433.1 L790.6,433.0 L787.6,433.0 L784.6,433.0 L781.6,433.0 L778.5,432.9 L775.5,432.9 L772.5,432.9 L769.5,432.9 L766.4,432.9 L763.4,432.9 L760.4,432.9 L757.4,432.9 L754.3,432.9 L751.3,432.9 L748.3,432.9 L745.3,432.8 L742.2,432.8 L739.2,432.8 L736.2,432.8 L733.2,432.8 L730.2,432.8 L727.2,432.8 L724.1,432.8 L721.1,432.8 L718.1,432.8 L715.1,432.8 L712.1,432.8 L709.1,432.8 L706.0,432.8 L703.0,432.8 L700.0,432.8 L697.0,432.8 L694.0,432.8 L691.0,432.8 L688.0,432.8 L685.0,432.8 L681.9,432.8 L678.9,432.8 L675.9,432.8 L672.9,432.8 L669.9,432.8 L666.9,432.8 L663.9,432.8 L660.9,432.8 L657.9,432.8 L654.8,432.8 L651.8,432.8 L648.8,432.8 L645.8,432.8 L642.8,432.8 L639.8,432.9 L636.8,432.9 L633.8,432.9 L630.8,432.9 L627.8,432.9 L624.7,432.9 L621.7,432.9 L618.7,432.9 L615.7,432.9 L612.7,432.9 L609.7,432.9 L606.7,432.9 L603.7,432.9 L600.7,432.9 L597.7,432.9 L594.6,432.9 L591.6,432.9 L588.6,432.9 L585.6,432.9 L582.6,432.9 L579.6,432.9 L576.6,432.9 L573.6,432.9 L570.6,432.9 L567.5,432.9 L564.5,432.9 L561.5,432.9 L558.5,432.9 L555.5,432.9 L552.5,432.9 L549.5,432.9 L546.5,432.9 L543.4,432.9 L540.4,432.9 L537.4,432.9 L534.4,432.9 L531.4,432.9 L528.4,432.9 L525.4,432.9 L522.3,432.9 L519.3,432.9 L516.3,432.9 L513.3,432.9 L510.3,432.9 L507.3,432.9 L504.3,432.9 L501.2,432.9 L498.2,432.9 L495.2,432.9 L492.2,432.9 L489.2,432.9 L486.2,432.9 L483.1,432.9 L480.1,432.9 L477.1,432.9 L474.1,432.9 L471.1,432.9 L468.1,432.9 L465.1,432.9 L462.0,432.9 L459.0,432.9 L456.0,432.9 L453.0,432.9 L450.0,432.9 L447.0,432.9 L443.9,432.9 L440.9,432.9 L437.9,432.9 L434.9,432.9 L431.9,432.9 L428.9,432.9 L425.8,432.9 L422.8,432.9 L419.8,432.9 L416.8,432.9 L413.8,432.9 L410.8,432.9 L407.7,432.9 L404.7,432.9 L401.7,432.9 L398.7,432.9 L395.7,432.9 L392.7,432.9 L389.6,432.9 L386.6,432.9 L383.6,432.9 L380.6,432.9 L377.6,432.9 L374.6,432.9 L371.5,432.9 L368.5,432.9 L365.5,432.9 L362.5,432.9 L359.5,432.9 L356.5,432.9 L353.5,432.9 L350.4,432.9 L347.4,432.9 L344.4,432.9 L341.4,432.9 L338.4,432.9 L335.4,432.9 L332.3,432.9 L329.3,432.9 L326.3,432.9 L323.3,432.9 L320.3,432.9 L317.3,432.9 L314.3,432.9 L311.2,432.9 L308.2,432.9 L305.2,432.9 L302.2,432.9 L299.2,432.9 L296.2,432.9 L293.2,432.9 L290.2,432.9 L287.1,432.9 L284.1,432.9 L281.1,432.9 L278.1,432.9 L275.1,432.9 L272.1,432.9 L269.1,432.9 L266.1,432.9 L263.0,432.9 L260.0,432.9 L257.0,432.9 L254.0,432.9 L251.0,432.9" stroke="#00f" stroke-width="7.0"/>
</g>
<polygon points="250.80,415.00 239.30,440.50 262.30,440.50" fill="#00f"/>
<polygon points="371.46,415.00 359.96,440.50 382.96,440.50" fill="#00f"/>
<polygon points="492.12,415.00 480.62,440.50 503.62,440.50" fill="#00f"/>
<polygon points="612.78,415.00 601.28,440.50 624.28,440.50" fill="#00f"/>
<polygon points="733.44,415.00 721.94,440.50 744.94,440.50" fill="#00f"/>
<polygon points="854.10,415.00 842.60,443.50 865.60,443.50" fill="#00f"/>
<polygon points="975.50,394.50 965.20,414.00 985.80,414.00" fill="#00f"/>
<polygon points="974.80,439.20 963.80,458.60 985.80,458.60" fill="#00f"/>
<polygon points="1096.50,267.30 1085.80,286.70 1107.20,286.70" fill="#00f"/>
<polygon points="1096.30,407.60 1085.60,427.80 1107.00,427.80" fill="#00f"/>
<g stroke="#1c1c1c" stroke-width="2.7" fill="none" stroke-linecap="butt" stroke-linejoin="round">
<rect x="190.60" y="4.30" width="1085.50" height="798.30"/>
<line x1="182.40" y1="777.84" x2="190.60" y2="777.84"/>
<line x1="174.80" y1="727.92" x2="190.60" y2="727.92"/>
<line x1="182.40" y1="678.00" x2="190.60" y2="678.00"/>
<line x1="174.80" y1="628.08" x2="190.60" y2="628.08"/>
<line x1="182.40" y1="578.16" x2="190.60" y2="578.16"/>
<line x1="174.80" y1="528.24" x2="190.60" y2="528.24"/>
<line x1="182.40" y1="478.32" x2="190.60" y2="478.32"/>
<line x1="174.80" y1="428.40" x2="190.60" y2="428.40"/>
<line x1="182.40" y1="378.48" x2="190.60" y2="378.48"/>
<line x1="174.80" y1="328.56" x2="190.60" y2="328.56"/>
<line x1="182.40" y1="278.64" x2="190.60" y2="278.64"/>
<line x1="174.80" y1="228.72" x2="190.60" y2="228.72"/>
<line x1="182.40" y1="178.80" x2="190.60" y2="178.80"/>
<line x1="174.80" y1="128.88" x2="190.60" y2="128.88"/>
<line x1="182.40" y1="78.96" x2="190.60" y2="78.96"/>
<line x1="174.80" y1="29.04" x2="190.60" y2="29.04"/>
<line x1="190.47" y1="802.60" x2="190.47" y2="811.90"/>
<line x1="250.80" y1="802.60" x2="250.80" y2="820.10"/>
<line x1="311.13" y1="802.60" x2="311.13" y2="811.90"/>
<line x1="371.46" y1="802.60" x2="371.46" y2="820.10"/>
<line x1="431.79" y1="802.60" x2="431.79" y2="811.90"/>
<line x1="492.12" y1="802.60" x2="492.12" y2="820.10"/>
<line x1="552.45" y1="802.60" x2="552.45" y2="811.90"/>
<line x1="612.78" y1="802.60" x2="612.78" y2="820.10"/>
<line x1="673.11" y1="802.60" x2="673.11" y2="811.90"/>
<line x1="733.44" y1="802.60" x2="733.44" y2="820.10"/>
<line x1="793.77" y1="802.60" x2="793.77" y2="811.90"/>
<line x1="854.10" y1="802.60" x2="854.10" y2="820.10"/>
<line x1="914.43" y1="802.60" x2="914.43" y2="811.90"/>
<line x1="974.76" y1="802.60" x2="974.76" y2="820.10"/>
<line x1="1035.09" y1="802.60" x2="1035.09" y2="811.90"/>
<line x1="1095.42" y1="802.60" x2="1095.42" y2="820.10"/>
<line x1="1155.75" y1="802.60" x2="1155.75" y2="811.90"/>
<line x1="1216.08" y1="802.60" x2="1216.08" y2="820.10"/>
<line x1="1276.41" y1="802.60" x2="1276.41" y2="811.90"/>
</g>
<g font-family="Liberation Sans, sans-serif" font-size="47.5" fill="#000">
<text transform="translate(162.5,741.92) scale(0.972,1)" text-anchor="end">-0.6</text>
<text transform="translate(162.5,642.08) scale(0.972,1)" text-anchor="end">-0.4</text>
<text transform="translate(162.5,542.24) scale(0.972,1)" text-anchor="end">-0.2</text>
<text transform="translate(162.5,442.40) scale(0.972,1)" text-anchor="end">0.0</text>
<text transform="translate(162.5,342.56) scale(0.972,1)" text-anchor="end">0.2</text>
<text transform="translate(162.5,242.72) scale(0.972,1)" text-anchor="end">0.4</text>
<text transform="translate(162.5,142.88) scale(0.972,1)" text-anchor="end">0.6</text>
<text transform="translate(162.5,43.04) scale(0.972,1)" text-anchor="end">0.8</text>
<text transform="translate(250.80,867.4) scale(0.972,1)" text-anchor="middle">0.0</text>
<text transform="translate(371.46,867.4) scale(0.972,1)" text-anchor="middle">0.2</text>
<text transform="translate(492.12,867.4) scale(0.972,1)" text-anchor="middle">0.4</text>
<text transform="translate(612.78,867.4) scale(0.972,1)" text-anchor="middle">0.6</text>
<text transform="translate(733.44,867.4) scale(0.972,1)" text-anchor="middle">0.8</text>
<path transform="translate(820.69,867.4) scale(0.02256,-0.02256)" d="M763 0H583V1147Q518 1085 412.5 1023Q307 961 223 930V1104Q374 1175 487 1276Q600 1377 647 1472H763Z"/>
<text transform="translate(846.38,867.4) scale(0.972,1)" text-anchor="start">.0</text>
<path transform="translate(941.35,867.4) scale(0.02256,-0.02256)" d="M763 0H583V1147Q518 1085 412.5 1023Q307 961 223 930V1104Q374 1175 487 1276Q600 1377 647 1472H763Z"/>
<text transform="translate(967.04,867.4) scale(0.972,1)" text-anchor="start">.2</text>
<path transform="translate(1062.01,867.4) scale(0.02256,-0.02256)" d="M763 0H583V1147Q518 1085 412.5 1023Q307 961 223 930V1104Q374 1175 487 1276Q600 1377 647 1472H763Z"/>
<text transform="translate(1087.70,867.4) scale(0.972,1)" text-anchor="start">.4</text>
<path transform="translate(1182.67,867.4) scale(0.02256,-0.02256)" d="M763 0H583V1147Q518 1085 412.5 1023Q307 961 223 930V1104Q374 1175 487 1276Q600 1377 647 1472H763Z"/>
<text transform="translate(1208.36,867.4) scale(0.972,1)" text-anchor="start">.6</text>
</g>
<text x="579.2" y="933.6" text-anchor="start" letter-spacing="0.9" font-family="Liberation Serif, serif" font-weight="bold" font-size="63" fill="#000">Potential (V)</text>
<text transform="translate(49.4,385.5) rotate(-90)" text-anchor="middle" font-family="Liberation Serif, serif" font-weight="bold" font-size="65.2" fill="#000">Current (mA)</text>
<rect x="213.75" y="15.75" width="266.75" height="196.75" fill="#fff" stroke="#707070" stroke-width="2.3"/>
<g stroke-linecap="round" stroke-width="6.9" fill="none">
<line x1="220" y1="52.8" x2="307.5" y2="52.8" stroke="#000"/>
<line x1="220" y1="118.5" x2="307.5" y2="118.5" stroke="#f00"/>
<line x1="220" y1="185.5" x2="307.5" y2="185.5" stroke="#00f"/>
</g>
<rect x="253.7" y="44.3" width="17.1" height="17.2" fill="#000"/>
<circle cx="262" cy="118.5" r="9.5" fill="#f00"/>
<polygon points="262.8,172 250.9,192.8 274.7,192.8" fill="#00f"/>
<g font-family="Liberation Serif, serif" font-size="52.5" fill="#000">
<text x="316.5" y="66.3">pTPAT</text>
<text x="316.5" y="132.5">pPHT</text>
<text x="316.5" y="200">pTPTT</text>
</g>
</svg>
</body></html>
